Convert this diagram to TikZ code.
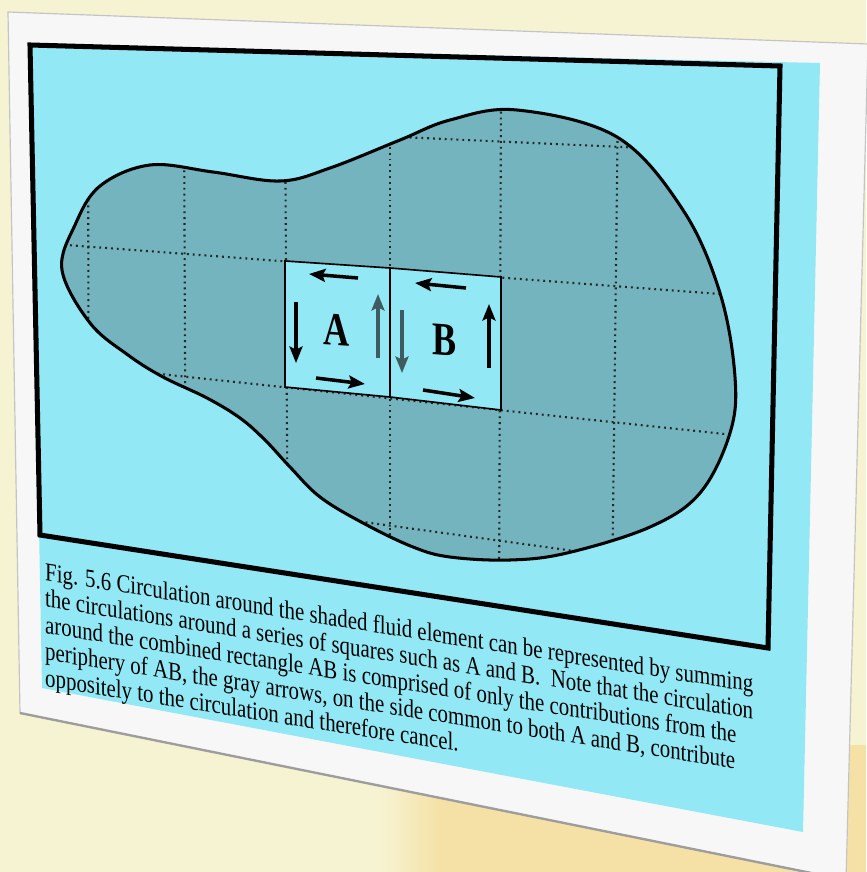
\documentclass[tikz,border=0pt]{standalone}
\usepackage{fontspec}
\setmainfont{Liberation Serif}
\usetikzlibrary{arrows.meta}
\definecolor{paper}{HTML}{F6F3D2}
\definecolor{warm}{HTML}{F5E1A6}
\definecolor{board}{HTML}{F7F7F7}
\definecolor{boardedge}{HTML}{C4C4C4}
\definecolor{slide}{HTML}{92E8F5}
\definecolor{blob}{HTML}{74B4BE}
\definecolor{shade}{HTML}{3E5C60}
\tikzset{
  edge/.style={line width=2.6pt, line join=round},
  gridline/.style={line width=1.8pt, dash pattern=on 1.6pt off 3.4pt, black!85},
  cell/.style={fill=slide, draw=black, line width=1.4pt},
  flow/.style={-{Stealth[length=14pt, width=11pt, inset=2.5pt]}, line width=3pt, draw=#1},
  flow/.default=black,
  letter/.style={font={\fontsize{40}{40}\selectfont\bfseries}, inner sep=0pt, yslant=-0.07, xscale=0.77},
  caption/.style={font={\fontsize{22}{22.6}\selectfont}, align=left, inner sep=0pt, yslant=-0.158, xscale=0.81},
}

\begin{document}
\begin{tikzpicture}[x=0.03cm, y=-0.03cm]
\useasboundingbox (0,0) rectangle (866,872);

% wall behind the board
\fill[paper] (0,0) rectangle (866,872);
\shade[left color=paper, right color=warm] (380,745) rectangle (440,872);
\fill[warm] (440,745) rectangle (866,872);

% white board, tilted away
\fill[board, draw=boardedge, line width=1pt] (8,12) -- (868,44) -- (846,880) -- (20,713) -- cycle;
\draw[boardedge!80!black, line width=2pt] (20,713) -- (846,880);
% cyan slide
\fill[slide] (30,45) -- (820,63) -- (803,832) -- (42,688) -- cycle;
% figure frame
\draw[line width=4.3pt, line join=miter] (30,45) -- (780,66) -- (768,648) -- (40,535) -- cycle;

% shaded fluid element
\path[save path=\blobpath] plot[smooth cycle, tension=0.6] coordinates {
  (62,270) (75,225) (100,186) (150,165) (213,172) (280,181) (330,168)
  (400,140) (450,120) (517,110) (617,137) (683,210) (720,293) (735,377)
  (730,433) (700,493) (650,527) (567,553) (510,560) (450,557) (413,547)
  (363,523) (320,497) (290,467) (265,440) (240,418) (207,398) (163,377)
  (128,355) (90,323)};
\fill[blob, use path=\blobpath];
\begin{scope}
  \clip[use path=\blobpath];
  \foreach \xt/\xb in {88/89, 184/186, 285/288, 390/390, 501/499, 618/612}
    \draw[gridline] (\xt,100) -- (\xb,600);
  \foreach \yl/\yr in {119/155, 240/300, 357/442, 472/582}
    \draw[gridline] (0,\yl) -- (800,\yr);
\end{scope}
\draw[edge, use path=\blobpath];

% squares A and B
\coordinate (a1) at (285,261);
\coordinate (m1) at (390,268);
\coordinate (b1) at (501,277);
\coordinate (a2) at (285,387);
\coordinate (m2) at (390,397);
\coordinate (b2) at (501,410);
\draw[cell] (a1) -- (m1) -- (b1) -- (b2) -- (m2) -- (a2) -- cycle;
\draw[line width=1.4pt] (m1) -- (m2);

% circulation round each square
\foreach \sx/\sy/\ex/\ey in {358/278/309/274, 296/302/296/363, 316/378/365/384,
                             466/288/415/283, 489/368/489/304, 423/390/475/398}
  \draw[flow] (\sx,\sy) -- (\ex,\ey);
% common side, cancels
\draw[flow=shade] (378,358) -- (378,294);
\draw[flow=shade] (402,310) -- (402,373);

\node[letter] (A) at (337,330) {A};
\node[letter] (B) at (445,340) {B};

% caption
\node[caption, anchor=north west] (cap) at (45,562) {Fig. 5.6 Circulation around the shaded fluid element can be represented by summing\\
the circulations around a series of squares such as A and B.\ \ Note that the circulation\\
around the combined rectangle AB is comprised of only the contributions from the\\
periphery of AB, the gray arrows, on the side common to both A and B, contribute\\
oppositely to the circulation and therefore cancel.};

\end{tikzpicture}
\end{document}
